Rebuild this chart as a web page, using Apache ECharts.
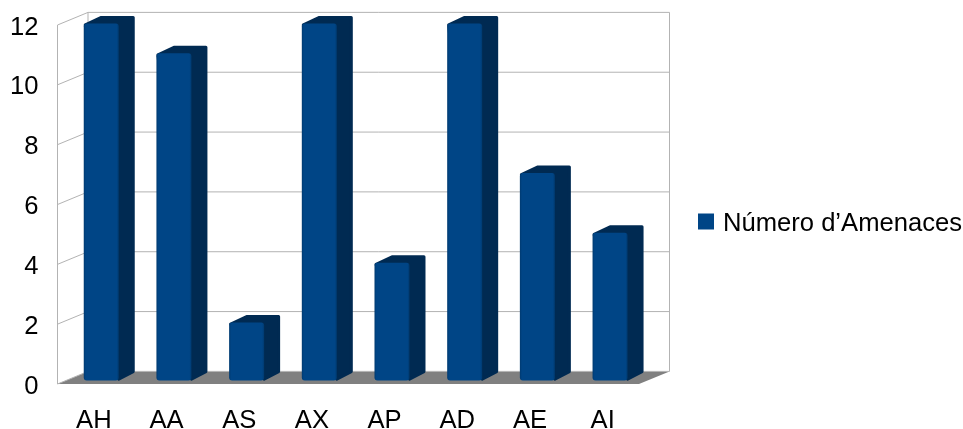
<!DOCTYPE html>
<html>
<head>
<meta charset="utf-8">
<style>html,body{margin:0;padding:0;background:#fff}#c{width:963px;height:429px}</style>
<script src="https://cdn.jsdelivr.net/npm/echarts@6/dist/echarts.min.js"></script>
</head>
<body>
<div id="c"></div>
<script>
// Threats per group, drawn as pseudo-3D columns
const categories = ['AH', 'AA', 'AS', 'AX', 'AP', 'AD', 'AE', 'AI'];
const threatCounts = [12, 11, 2, 12, 4, 12, 7, 5];
const yTicks = [0, 2, 4, 6, 8, 10, 12];
const seriesName = 'Número d’Amenaces';

const fontFamily = '"Liberation Sans", Arial, sans-serif';
const labelSize = 25.6;
const wallLine = '#b3b3b3';
const floorColor = '#808080';
const frontColor = '#004586';
const sideColor = '#002a52';
// Room depth and column depth offsets
const roomDx = 30.5, roomDy = -12.6;
const barDx = 16, barDy = -7.5;
const barShiftX = 7.4, barTopShift = -1.6, barBaseShift = -3.4;
const barHalf = 17.5;
const cornerInset = 1.5;
// Rich-text style that drops a label slightly below its anchor
const loweredText = {fontFamily, fontSize: labelSize, color: '#000', padding: [5, 0, 0, 0]};

function renderRoom(params, api) {
  const cs = params.coordSys;
  const tick = api.value(0);
  const y = api.coord([0, tick])[1];
  const left = cs.x, right = cs.x + cs.width;
  const children = [{
    type: 'polyline',
    shape: {points: [[left, y], [left + roomDx, y + roomDy], [right + roomDx, y + roomDy]]},
    style: {stroke: wallLine, lineWidth: 1, fill: null}, silent: true
  }];
  if (tick === 0) {
    const top = cs.y;
    children.unshift({
      type: 'polygon',
      shape: {points: [[left, y], [left + roomDx, y + roomDy], [right + roomDx, y + roomDy], [right, y]]},
      style: {fill: floorColor}, silent: true
    });
    children.push(
      {type: 'line', shape: {x1: left, y1: top, x2: left, y2: y}, style: {stroke: wallLine, lineWidth: 1}},
      {type: 'line', shape: {x1: left + roomDx, y1: top + roomDy, x2: left + roomDx, y2: y + roomDy}, style: {stroke: wallLine, lineWidth: 1}},
      {type: 'line', shape: {x1: right + roomDx, y1: top + roomDy, x2: right + roomDx, y2: y + roomDy}, style: {stroke: wallLine, lineWidth: 1}}
    );
  }
  return {type: 'group', children};
}

function renderColumn(params, api) {
  const top = api.coord([api.value(0), api.value(1)]);
  const base = api.coord([api.value(0), 0]);
  const cx = top[0] + barShiftX;
  const x0 = cx - barHalf, x1 = cx + barHalf;
  const y0 = top[1] + barTopShift, y1 = base[1] + barBaseShift;
  const i = cornerInset;
  const frontFill = new echarts.graphic.LinearGradient(0, 0, 1, 0, [
    {offset: 0, color: '#003a70'}, {offset: 0.06, color: frontColor},
    {offset: 0.94, color: frontColor}, {offset: 1, color: '#003a70'}
  ]);
  // Dark silhouette of the top and side faces, with rounded outer corners
  const shell = [
    [x0 + i, y0 + i],
    [x0 + barDx + i, y0 + barDy + i],
    [x1 + barDx - i, y0 + barDy + i],
    [x1 + barDx - i, y1 + barDy - i],
    [x1, y1 - i]
  ];
  return {type: 'group', children: [
    {type: 'polygon', shape: {points: shell},
      style: {fill: sideColor, stroke: sideColor, lineWidth: i * 2, lineJoin: 'round'}},
    {type: 'rect', shape: {x: x0, y: y0, width: x1 - x0, height: y1 - y0, r: 3},
      style: {fill: frontFill}}
  ]};
}

const chart = echarts.init(document.getElementById('c'), null, {renderer: 'canvas'});
chart.setOption({
  animation: false,
  backgroundColor: '#fff',
  grid: {left: 57.5, right: 324, top: 25, bottom: 45, outerBoundsMode: 'none'},
  legend: {
    data: [seriesName], orient: 'vertical', left: 698, top: 211, padding: 0,
    icon: 'rect', itemWidth: 16, itemHeight: 16, itemGap: 0,
    formatter: name => '{t|' + name + '}',
    textStyle: {fontFamily, fontSize: labelSize, color: '#000', padding: [0, 0, 0, 4],
      rich: {t: loweredText}},
    selectedMode: false
  },
  tooltip: {show: false},
  xAxis: {
    type: 'category', data: categories,
    axisLine: {show: false}, axisTick: {show: false}, splitLine: {show: false},
    axisLabel: {fontFamily, fontSize: labelSize, color: '#000', margin: 24}
  },
  yAxis: {
    type: 'value', min: 0, max: 12, interval: 2,
    axisLine: {show: false}, axisTick: {show: false}, splitLine: {show: false},
    axisLabel: {fontFamily, fontSize: labelSize, color: '#000', margin: 19,
      formatter: '{t|{value}}', rich: {t: loweredText}}
  },
  series: [
    {type: 'custom', silent: true, legendHoverLink: false, renderItem: renderRoom,
      data: yTicks.map(v => [v]), encode: {y: 0}, z: 1},
    {type: 'custom', name: seriesName, renderItem: renderColumn, z: 2,
      itemStyle: {color: frontColor},
      data: threatCounts.map((v, i) => [i, v]), encode: {x: 0, y: 1}}
  ]
});
</script>
</body>
</html>
